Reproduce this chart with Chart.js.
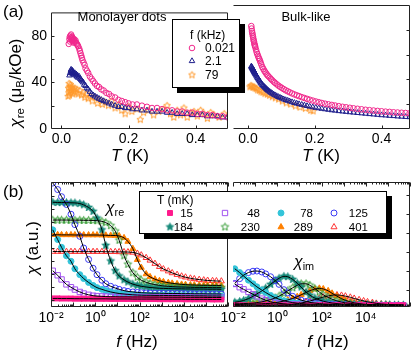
<!DOCTYPE html>
<html>
<head>
<meta charset="utf-8">
<script src="https://cdn.jsdelivr.net/npm/chart.js@4.4.0/dist/chart.umd.min.js"></script>
<style>
  body { margin: 0; background: #fff; }
  #wrap { position: relative; width: 415px; height: 352px; overflow: hidden;
          font-family: 'Liberation Sans', Arial, Helvetica, sans-serif; color: #000; }
  canvas { position: absolute; }
  .t { position: absolute; white-space: nowrap; line-height: 1; }
  .c { transform: translate(-50%, -50%); }
  .rot { transform: translate(-50%, -50%) rotate(-90deg); }
  .legend { position: absolute; background: #fff; border: 1px solid #000; box-shadow: 5px 5px 0 #000; }
  .legend div { position: absolute; white-space: nowrap; line-height: 15px; font-size: 12px; }
  #legB div.num { font-size: 11.5px; }
  .legend canvas { position: absolute; }
  sub { font-size: 0.68em; vertical-align: -0.28em; line-height: 0; }
</style>
</head>
<body>
<div id="wrap">
  <canvas id="a1" width="233" height="150" style="left:0;top:0"></canvas>
  <canvas id="a2" width="202" height="150" style="left:213px;top:0"></canvas>
  <canvas id="b1" width="233" height="170" style="left:0;top:170px"></canvas>
  <canvas id="b2" width="202" height="170" style="left:213px;top:170px"></canvas>

  <div class="t" style="left:3px;top:3px;font-size:17px">(a)</div>
  <div class="t" style="left:3px;top:183px;font-size:17px">(b)</div>
  <div class="t c" style="left:122px;top:16px;font-size:13px">Monolayer dots</div>
  <div class="t c" style="left:306px;top:16px;font-size:13px">Bulk-like</div>
  <div class="t rot" style="left:15px;top:83px;font-size:17px"><i>χ</i><sub>re</sub> (μ<sub>B</sub>/kOe)</div>
  <div class="t c" style="left:130px;top:155px;font-size:17px"><i>T</i> (K)</div>
  <div class="t c" style="left:321px;top:155px;font-size:17px"><i>T</i> (K)</div>
  <div class="t rot" style="left:32px;top:248px;font-size:17px"><i>χ</i> (a.u.)</div>
  <div class="t c" style="left:137px;top:341px;font-size:17px"><i>f</i> (Hz)</div>
  <div class="t c" style="left:328px;top:341px;font-size:17px"><i>f</i> (Hz)</div>
  <div class="t c" style="left:115px;top:208px;font-size:16px"><i>χ</i><sub>re</sub></div>
  <div class="t c" style="left:304px;top:262px;font-size:16px"><i>χ</i><sub>im</sub></div>

  <div id="legA" class="legend" style="left:172px;top:19px;width:66px;height:67px"></div>
  <div id="legB" class="legend" style="left:139px;top:191px;width:246px;height:41px"></div>
</div>

<script>
// ---- panel (a): chi_re vs T ----
const tTicks = [0, 0.2, 0.4];
const chiTicks = [0, 40, 80];
const freqLegend = ["0.021", "2.1", "79"];

const monoMagT = [0.022,0.024,0.025,0.026,0.027,0.028,0.029,0.030,0.031,0.032,0.033,0.034,0.035,0.036,0.037,0.038,0.040,0.042,0.044,0.046,0.048,0.050,0.053,0.055,0.057,0.059,0.061,0.063,0.066,0.069,0.072,0.076,0.080,0.085,0.090,0.095,0.100,0.106,0.112,0.119,0.126,0.134,0.142,0.150,0.160,0.170,0.180,0.190,0.200,0.212,0.225,0.240,0.255,0.270,0.285,0.300,0.315,0.330,0.345,0.360,0.375,0.390,0.405,0.420,0.435,0.450,0.465,0.480,0.495];
const monoMag = [73,77,79,75,80,78,81,77,76,79,78,75,77,76,74,77,75,76,74,73,72,71,69,67,65,63,61,59,57,55,52,50,48,45,43,41,39,37,36,34,33,31,30,28,27,25,24,23,22,21,21,20,19,18,18,17,16,16,15,15,14,14,13,13,12,12,11,11,10];

const monoNavyT = [0.024,0.026,0.028,0.029,0.030,0.031,0.032,0.033,0.034,0.035,0.036,0.038,0.040,0.042,0.044,0.046,0.048,0.050,0.053,0.056,0.059,0.062,0.065,0.068,0.072,0.076,0.080,0.085,0.090,0.095,0.100,0.106,0.112,0.119,0.126,0.134,0.142,0.150,0.160,0.170,0.180,0.190,0.200,0.212,0.225,0.240,0.255,0.270,0.285,0.300,0.315,0.330,0.345,0.360,0.375,0.390,0.405,0.420,0.435,0.450,0.465,0.480,0.495];
const monoNavy = [46,48,50,51,49,50,48,50,47,49,48,47,48,46,47,45,46,44,45,43,42,41,40,38,37,35,34,32,30,29,28,27,26,25,24,23,22,21,20,19,19,18,18,17,17,16,16,15,15,15,14,14,13,13,13,12,12,12,11,11,11,10,10];

const monoOrT = [0.020,0.021,0.022,0.023,0.024,0.025,0.026,0.027,0.028,0.029,0.030,0.032,0.034,0.036,0.038,0.040,0.043,0.046,0.050,0.055,0.060,0.065,0.070,0.075,0.080,0.086,0.092,0.100,0.108,0.115,0.122,0.130,0.140,0.150,0.160,0.170,0.180,0.190,0.200,0.210,0.225,0.235,0.245,0.260,0.275,0.290,0.305,0.315,0.325,0.335,0.345,0.355,0.365,0.375,0.385,0.395,0.405,0.415,0.425,0.435,0.445,0.455,0.470,0.485];
const monoOr = [28,35,31,39,29,36,33,38,31,35,33,36,30,34,32,35,31,34,30,33,29,31,27,30,26,28,24,27,22,25,21,23,20,24,18,21,16,13,19,15,17,8,14,16,12,15,17,20,13,10,16,12,18,10,14,15,11,16,13,9,14,12,10,13];

const bulkT = [
  0.010,0.011,0.012,0.013,0.014,0.015,0.016,0.017,0.018,0.019,
  0.020,0.021,0.022,0.024,0.026,0.028,0.030,0.032,0.034,0.036,
  0.038,0.040,0.043,0.046,0.049,0.052,0.055,0.058,0.061,0.065,
  0.069,0.073,0.077,0.081,0.086,0.091,0.096,0.101,0.107,0.113,
  0.119,0.125,0.132,0.139,0.146,0.153,0.161,0.169,0.177,0.185,
  0.194,0.203,0.212,0.221,0.231,0.241,0.251,0.261,0.272,0.283,
  0.294,0.305,0.316,0.328,0.340,0.352,0.364,0.376,0.388,0.400,
  0.412,0.424,0.436,0.448,0.460,0.472,0.484];
const bulkMag = [
  83,81,79,77.5,76,74.5,73,71.5,70.5,69,
  68,67,66,64,62,60.5,59,57.5,56.5,55,
  53.5,52,50,48.5,47,45.8,44.6,43.5,42.6,41.5,
  40.3,39.2,38.2,37.2,36.1,35,34.1,33.2,32.2,31.2,
  30.4,29.6,28.7,27.9,27.2,26.5,25.7,25,24.3,23.6,
  22.9,22.2,21.6,21,20.4,19.9,19.4,18.9,18.4,17.9,
  17.5,17.1,16.7,16.3,15.9,15.5,15.2,14.9,14.6,14.3,
  14,13.8,13.5,13.3,13.1,12.9,12.7];
const bulkNavy = [
  50.5,50,49.5,49,48.5,48,47.5,47,46.5,46,
  45.5,45,44.5,43.5,42.5,41.5,40.8,39.9,39.1,38.3,
  37.4,36.6,35.6,34.8,34,33.2,32.4,31.6,30.9,30.1,
  29.3,28.6,27.9,27.3,26.6,25.9,25.3,24.7,24,23.4,
  22.9,22.3,21.7,21.1,20.6,20.1,19.6,19.1,18.6,18.1,
  17.6,17.2,16.8,16.4,16,15.6,15.2,14.9,14.5,14.2,
  13.9,13.6,13.3,13,12.7,12.4,12.1,11.8,11.5,11.2,
  11,10.7,10.5,10.2,10,9.8,9.6];
const bulkOrT = [0.006,0.009,0.012,0.015,0.018,0.021,0.025,0.029,0.034,0.039,0.045,0.051,0.058,0.065,0.073,0.082,0.092,0.103,0.115,0.128,0.142,0.156,0.172,0.188,0.195];
const bulkOr = [34,35,34.5,33.5,34,33,32.5,31.5,31,30,29.5,28.5,28,27,26,25,24,22.5,21,20,18.5,17.5,16.5,15,14.5];

// ---- panel (b): chi vs f ----
const tempsMK = ["15", "48", "78", "125", "184", "230", "289", "401"];
const fLabelTicks = [0.01, 1, 100, 10000];
const freqs = [0.012,0.02,0.03,0.05,0.08,0.12,0.2,0.3,0.5,0.8,1.2,2,3,5,8,12,20,30,50,80,120,200,300,500,800,1200,2000,3000,5000,8000,12000,20000,30000,50000,80000,120000,200000,300000,500000];

const re15  = [0.12,0.12,0.11,0.11,0.11,0.1,0.1,0.1,0.1,0.09,0.09,0.09,0.09,0.08,0.08,0.08,0.08,0.08,0.07,0.07,0.07,0.07,0.07,0.07,0.06,0.06,0.06,0.06,0.06,0.06,0.05,0.05,0.05,0.05,0.05,0.05,0.04,0.04,0.04];
const re48  = [2.25,1.9,1.58,1.2,0.98,0.8,0.62,0.5,0.4,0.33,0.3,0.28,0.26,0.25,0.25,0.24,0.24,0.24,0.23,0.23,0.23,0.22,0.22,0.22,0.22,0.21,0.21,0.21,0.21,0.21,0.2,0.2,0.2,0.2,0.2,0.19,0.19,0.19,0.19];
const re78  = [5.4,4.65,4.05,3.4,2.98,2.4,1.95,1.65,1.35,1.12,0.95,0.82,0.72,0.62,0.55,0.5,0.46,0.43,0.4,0.38,0.37,0.36,0.36,0.35,0.35,0.35,0.34,0.34,0.34,0.33,0.33,0.33,0.32,0.32,0.32,0.31,0.31,0.31,0.3];
const re125 = [9.0,8.5,7.95,7.35,6.6,5.8,4.9,4.0,3.12,2.44,1.95,1.52,1.25,1.05,0.92,0.82,0.72,0.66,0.62,0.58,0.56,0.54,0.53,0.52,0.52,0.51,0.5,0.5,0.5,0.49,0.49,0.49,0.48,0.48,0.48,0.47,0.47,0.47,0.46];
const re184 = [7.52,7.5,7.5,7.49,7.48,7.47,7.42,7.32,7.12,6.82,6.3,5.4,4.2,3.0,2.25,1.85,1.55,1.38,1.22,1.12,1.05,1.0,0.96,0.93,0.9,0.89,0.88,0.87,0.86,0.86,0.85,0.85,0.84,0.84,0.84,0.83,0.83,0.83,0.82];
const re230 = [6.15,6.15,6.15,6.15,6.14,6.14,6.14,6.13,6.13,6.12,6.1,6.05,5.95,5.72,5.3,4.6,3.4,2.75,2.1,1.75,1.52,1.36,1.26,1.18,1.12,1.08,1.05,1.03,1.01,1.0,0.99,0.98,0.97,0.97,0.96,0.96,0.95,0.95,0.95];
const re289 = [5.02,5.02,5.01,5.01,5.01,5.0,5.0,5.0,5.0,5.0,5.0,4.99,4.98,4.97,4.96,4.93,4.78,4.5,3.95,3.1,2.5,2.0,1.78,1.6,1.48,1.4,1.33,1.28,1.24,1.2,1.18,1.16,1.15,1.14,1.13,1.13,1.12,1.12,1.12];
const re401 = [3.73,3.73,3.73,3.72,3.72,3.72,3.72,3.72,3.72,3.72,3.72,3.72,3.71,3.71,3.71,3.7,3.7,3.69,3.66,3.58,3.45,3.25,3.05,2.8,2.56,2.38,2.22,2.08,1.95,1.83,1.75,1.67,1.62,1.57,1.53,1.5,1.48,1.46,1.45];

const im15  = [-0.79,-0.8,-0.8,-0.81,-0.8,-0.8,-0.81,-0.8,-0.8,-0.81,-0.8,-0.8,-0.81,-0.8,-0.8,-0.81,-0.8,-0.8,-0.81,-0.8,-0.8,-0.81,-0.8,-0.8,-0.81,-0.8,-0.8,-0.81,-0.8,-0.8,-0.81,-0.8,-0.8,-0.81,-0.8,-0.8,-0.81,-0.8,-0.8];
const im48  = [0.32,0.15,0.04,-0.1,-0.22,-0.33,-0.45,-0.53,-0.62,-0.67,-0.7,-0.72,-0.74,-0.75,-0.76,-0.77,-0.77,-0.78,-0.78,-0.78,-0.79,-0.79,-0.79,-0.79,-0.79,-0.8,-0.8,-0.8,-0.8,-0.8,-0.8,-0.8,-0.8,-0.8,-0.8,-0.8,-0.8,-0.8,-0.8];
const im78  = [1.12,0.92,0.74,0.52,0.33,0.17,0.0,-0.13,-0.28,-0.4,-0.48,-0.56,-0.61,-0.66,-0.69,-0.71,-0.73,-0.74,-0.75,-0.76,-0.77,-0.77,-0.78,-0.78,-0.78,-0.79,-0.79,-0.79,-0.79,-0.79,-0.8,-0.8,-0.8,-0.8,-0.8,-0.8,-0.8,-0.8,-0.8];
const im125 = [0.35,0.6,0.78,0.92,0.99,1.0,0.95,0.85,0.7,0.5,0.3,0.02,-0.15,-0.33,-0.45,-0.53,-0.6,-0.65,-0.68,-0.71,-0.73,-0.74,-0.75,-0.76,-0.77,-0.77,-0.78,-0.78,-0.78,-0.79,-0.79,-0.79,-0.79,-0.8,-0.8,-0.8,-0.8,-0.8,-0.8];
const im184 = [-0.64,-0.6,-0.55,-0.45,-0.33,-0.2,-0.05,0.1,0.3,0.48,0.62,0.72,0.7,0.56,0.36,0.16,-0.1,-0.27,-0.42,-0.52,-0.59,-0.64,-0.68,-0.71,-0.73,-0.75,-0.76,-0.77,-0.77,-0.78,-0.78,-0.78,-0.79,-0.79,-0.79,-0.79,-0.8,-0.8,-0.8];
const im230 = [-0.72,-0.72,-0.71,-0.7,-0.69,-0.66,-0.62,-0.57,-0.5,-0.42,-0.32,-0.18,-0.04,0.12,0.25,0.33,0.33,0.25,0.08,-0.1,-0.25,-0.38,-0.48,-0.57,-0.63,-0.67,-0.7,-0.73,-0.75,-0.76,-0.77,-0.78,-0.78,-0.79,-0.79,-0.79,-0.8,-0.8,-0.8];
const im289 = [-0.76,-0.76,-0.75,-0.75,-0.74,-0.73,-0.72,-0.71,-0.7,-0.67,-0.63,-0.58,-0.52,-0.44,-0.35,-0.25,-0.13,-0.03,0.05,0.09,0.06,-0.04,-0.17,-0.32,-0.45,-0.54,-0.62,-0.67,-0.71,-0.74,-0.76,-0.77,-0.78,-0.78,-0.79,-0.79,-0.8,-0.8,-0.8];
const im401 = [-0.8,-0.8,-0.8,-0.8,-0.8,-0.8,-0.79,-0.79,-0.79,-0.79,-0.79,-0.78,-0.78,-0.75,-0.72,-0.68,-0.63,-0.57,-0.5,-0.43,-0.37,-0.31,-0.27,-0.26,-0.28,-0.32,-0.38,-0.44,-0.51,-0.57,-0.62,-0.66,-0.7,-0.73,-0.75,-0.77,-0.78,-0.79,-0.8];

Chart.defaults.font.family = "'Liberation Sans', Arial, Helvetica, sans-serif";
Chart.defaults.color = "#000";

// 5 point star used as marker
function makeStar(r, fill, stroke) {
  const c = document.createElement("canvas");
  const s = Math.ceil(2 * r + 3);
  c.width = s; c.height = s;
  const g = c.getContext("2d");
  g.beginPath();
  for (let i = 0; i < 10; i++) {
    const rad = i % 2 ? r * 0.45 : r;
    const a = -Math.PI / 2 + i * Math.PI / 5;
    const px = s / 2 + rad * Math.cos(a), py = s / 2 + rad * Math.sin(a);
    if (i) g.lineTo(px, py); else g.moveTo(px, py);
  }
  g.closePath();
  if (fill) { g.fillStyle = fill; g.fill(); }
  g.strokeStyle = stroke; g.lineWidth = 1; g.stroke();
  return c;
}

const NONE = "rgba(0,0,0,0)";
function mk(pointStyle, r, fill, stroke) {
  return { pointStyle, pointRadius: r, pointBackgroundColor: fill, pointBorderColor: stroke, pointBorderWidth: 1, showLine: false };
}

const fStyles = [
  mk("circle", 2.8, NONE, "#f0288c"),
  mk("triangle", 3.2, NONE, "#1e1e8c"),
  mk(makeStar(3.6, null, "#ff9a2e"), 3.6, NONE, "#ff9a2e")
];
const tStyles = [
  mk("rect", 3.5, "#ff1a8c", "#ff1a8c"),
  mk("rect", 3.8, NONE, "#a050f0"),
  mk("circle", 3, "#33c4d9", "#33c4d9"),
  mk("circle", 3, NONE, "#3a3af5"),
  mk(makeStar(4, "#178a7a", "#178a7a"), 4, NONE, "#178a7a"),
  mk(makeStar(4, null, "#339a33"), 4, NONE, "#339a33"),
  mk("triangle", 3.5, "#ff8000", "#ff8000"),
  mk("triangle", 3.5, NONE, "#ff3333")
];

function toXY(xs, ys) { return xs.map((x, i) => ({ x, y: ys[i] })); }

function relaxSets(list) {
  const pts = list.map((ys, i) => Object.assign({}, tStyles[i], { data: toXY(freqs, ys), order: 2 }));
  const fits = list.map(ys => ({
    data: toXY(freqs, ys), showLine: true, pointRadius: 0, borderColor: "#000",
    borderWidth: 1, cubicInterpolationMode: "monotone", order: 1
  }));
  return pts.concat(fits);
}

// frame with inward ticks
const framePlugin = {
  id: "frame",
  afterDatasetsDraw(chart, args, o) {
    const { ctx, chartArea: a } = chart;
    const xs = chart.scales.x, ys = chart.scales.y;
    const L = a.left + 0.5, R = a.right - 0.5, T = a.top + 0.5, B = a.bottom - 0.5;
    ctx.save();
    ctx.strokeStyle = "#222";
    ctx.lineWidth = 1;
    ctx.beginPath();
    ctx.moveTo(L, B); ctx.lineTo(R, B); ctx.lineTo(R, T); ctx.lineTo(L, T);
    if (o.left) ctx.lineTo(L, B);
    (o.xTicks || []).forEach(([v, len]) => {
      const x = Math.round(xs.getPixelForValue(v)) + 0.5;
      ctx.moveTo(x, B); ctx.lineTo(x, B - len);
      if (o.xTop) { ctx.moveTo(x, T); ctx.lineTo(x, T + len); }
    });
    (o.yTicks || []).forEach(([v, len]) => {
      const y = Math.round(ys.getPixelForValue(v)) + 0.5;
      if (o.yLeft) { ctx.moveTo(L, y); ctx.lineTo(L + len, y); }
      if (o.yRight) { ctx.moveTo(R, y); ctx.lineTo(R - len, y); }
    });
    ctx.stroke();
    ctx.restore();
  }
};

const noGrid = { display: false, drawTicks: false };

function tAxis(min, max) {
  return {
    type: "linear", min, max, grid: noGrid, border: { display: false },
    afterBuildTicks: s => { s.ticks = tTicks.map(v => ({ value: v })); },
    afterFit: s => { s.height = 21; },
    ticks: { font: { size: 14 }, padding: 2, maxRotation: 0, autoSkip: false, callback: v => v.toFixed(1) }
  };
}

const supDigits = { "0": "⁰", "1": "¹", "2": "²", "3": "³", "4": "⁴", "5": "⁵", "6": "⁶", "-": "⁻" };
function sup(n) { return String(n).split("").map(ch => supDigits[ch]).join(""); }

function fAxis() {
  return {
    type: "logarithmic", min: 0.01, max: 1e6, grid: noGrid, border: { display: false },
    afterBuildTicks: s => { s.ticks = fLabelTicks.map(v => ({ value: v })); },
    afterFit: s => { s.height = 33; },
    ticks: { font: { size: 14 }, padding: 3, maxRotation: 0, autoSkip: false,
             callback: v => "10" + sup(Math.round(Math.log10(v))) }
  };
}

function hiddenY(min, max, width) {
  return {
    type: "linear", min, max, grid: noGrid, border: { display: false },
    ticks: { display: false }, afterFit: s => { s.width = width; }
  };
}

function makeChart(id, datasets, x, y, padding, frame) {
  return new Chart(document.getElementById(id), {
    type: "scatter",
    data: { datasets },
    options: {
      responsive: false, animation: false, events: [],
      layout: { padding },
      plugins: { legend: { display: false }, tooltip: { enabled: false }, frame },
      scales: { x, y }
    },
    plugins: [framePlugin]
  });
}

const tMarks = [[0, 3], [0.2, 3], [0.4, 3]];
const chiMarks = [[20, 3], [40, 3], [60, 3], [80, 3]];
const logMarks = [];
for (let d = -2; d <= 6; d++) {
  logMarks.push([Math.pow(10, d), 4]);
  if (d < 6) for (let m = 2; m <= 9; m++) logMarks.push([m * Math.pow(10, d), 2]);
}

// (a) left: monolayer dots
makeChart("a1", [
  Object.assign({}, fStyles[0], { data: toXY(monoMagT, monoMag) }),
  Object.assign({}, fStyles[1], { data: toXY(monoNavyT, monoNavy) }),
  Object.assign({}, fStyles[2], { data: toXY(monoOrT, monoOr) })
], tAxis(-0.031, 0.4965), {
  type: "linear", min: 0, max: 100, grid: noGrid, border: { display: false },
  afterBuildTicks: s => { s.ticks = chiTicks.map(v => ({ value: v })); },
  afterFit: s => { s.width = 51; },
  ticks: { font: { size: 14 }, padding: 4 }
}, { top: 2, right: 0, bottom: 0, left: 0 },
{ left: true, xTicks: tMarks, yTicks: chiMarks, yLeft: true });

// (a) right: bulk-like
makeChart("a2", [
  Object.assign({}, fStyles[0], { data: toXY(bulkT, bulkMag) }),
  Object.assign({}, fStyles[1], { data: toXY(bulkT, bulkNavy) }),
  Object.assign({}, fStyles[2], { data: toXY(bulkOrT, bulkOr) })
], tAxis(-0.0448, 0.4852), hiddenY(0, 100, 20),
{ top: 2, right: 1, bottom: 0, left: 0 },
{ left: false, xTicks: tMarks, yTicks: chiMarks, yRight: true });

// (b) left: real part
makeChart("b1", relaxSets([re15, re48, re78, re125, re184, re230, re289, re401]),
  fAxis(), hiddenY(-0.54, 9.08, 51),
  { top: 12, right: 0, bottom: 0, left: 0 },
  { left: true, xTicks: logMarks, xTop: true, yTicks: [0,1,2,3,4,5,6,7,8].map(v => [v, 3]), yLeft: true });

// (b) right: imaginary part
makeChart("b2", relaxSets([im15, im48, im78, im125, im184, im230, im289, im401]),
  fAxis(), hiddenY(-0.89, 5.68, 20),
  { top: 12, right: 1, bottom: 0, left: 0 },
  { left: false, xTicks: logMarks, xTop: true, yTicks: [0,1,2,3,4,5].map(v => [v, 3]), yRight: true });

// legends (HTML boxes with markers drawn like the chart points)
function markerCanvas(style) {
  const c = document.createElement("canvas");
  c.width = 12; c.height = 12;
  const g = c.getContext("2d");
  g.fillStyle = style.pointBackgroundColor;
  g.strokeStyle = style.pointBorderColor;
  g.lineWidth = style.pointBorderWidth;
  const opts = { pointStyle: style.pointStyle, radius: style.pointRadius, rotation: 0, borderWidth: style.pointBorderWidth };
  if (Chart.helpers && Chart.helpers.drawPoint) {
    Chart.helpers.drawPoint(g, opts, 6, 6);
  } else {
    g.beginPath(); g.arc(6, 6, style.pointRadius, 0, 2 * Math.PI); g.stroke();
  }
  return c;
}

function addText(box, text, left, top, width, align, cls) {
  const d = document.createElement("div");
  d.textContent = text;
  d.style.left = left + "px"; d.style.top = top + "px";
  if (width) { d.style.width = width + "px"; d.style.textAlign = align; }
  if (cls) d.className = cls;
  box.appendChild(d);
}
function addMarker(box, style, cx, cy) {
  const c = markerCanvas(style);
  c.style.left = (cx - 6) + "px"; c.style.top = (cy - 6) + "px";
  box.appendChild(c);
}

const legA = document.getElementById("legA");
addText(legA, "f (kHz)", 17, 8);
freqLegend.forEach((lab, i) => {
  const cy = [28, 41, 55][i];
  addMarker(legA, fStyles[i], 19, cy);
  addText(legA, lab, 32, cy - 7.5);
});

const legB = document.getElementById("legB");
addText(legB, "T (mK)", 17, 1);
const colMarker = [30, 85, 141, 194];
const colEnd = [53, 120, 173, 228];
tempsMK.forEach((lab, i) => {
  const col = i % 4, row = Math.floor(i / 4);
  const cy = row ? 35 : 21;
  addMarker(legB, tStyles[i], colMarker[col], cy);
  addText(legB, lab, colEnd[col] - 40, cy - 7.5, 40, "right", "num");
});
</script>
</body>
</html>
